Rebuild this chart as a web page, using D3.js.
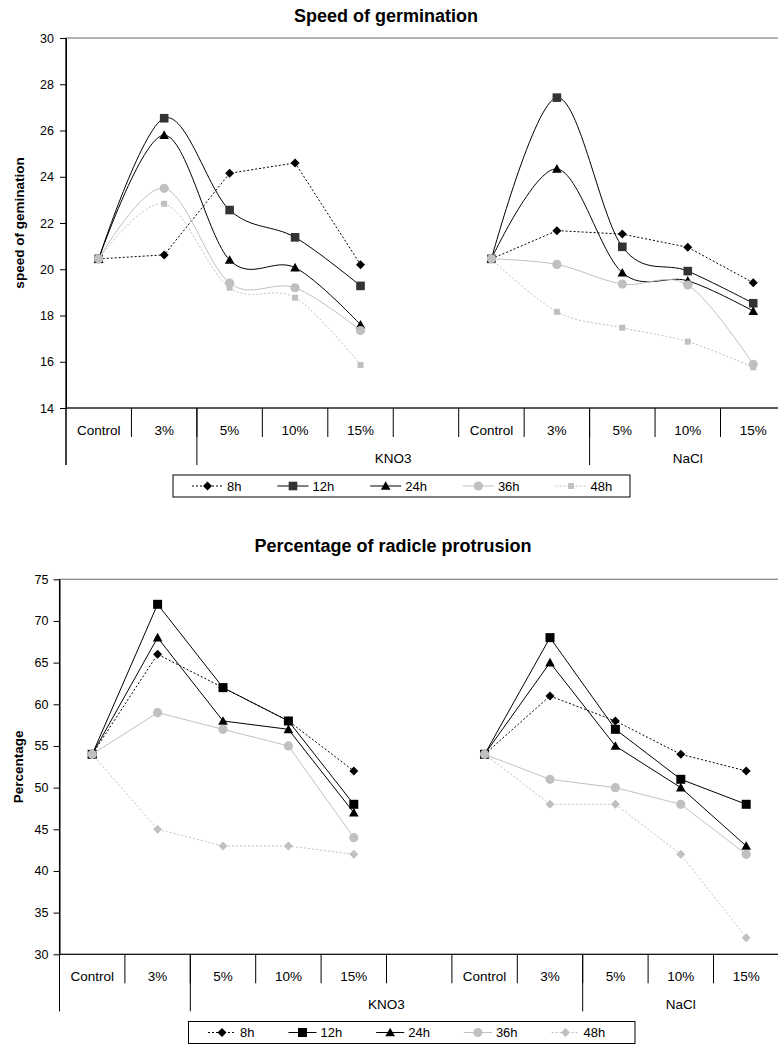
<!DOCTYPE html>
<html>
<head>
<meta charset="utf-8">
<script src="https://cdn.jsdelivr.net/npm/d3@7"></script>
<style>
  body { margin: 0; background: #fff; }
  svg text { font-family: "Liberation Sans", Arial, sans-serif; fill: #000; }
</style>
</head>
<body>
<div id="chart"></div>
<script>
// x categories, slot 5 is the empty gap between the two salts
var categories = ["Control", "3%", "5%", "10%", "15%", "", "Control", "3%", "5%", "10%", "15%"];
var groupLabels = ["", "KNO3", "NaCl"];
var groupSpans = [2, 6, 3];
var seriesNames = ["8h", "12h", "24h", "36h", "48h"];

// speed of germination
var speed8h  = [20.45, 20.62, 24.15, 24.6, 20.2, null, 20.45, 21.67, 21.52, 20.95, 19.42];
var speed12h = [20.45, 26.53, 22.56, 21.38, 19.28, null, 20.45, 27.42, 20.97, 19.92, 18.53];
var speed24h = [20.45, 25.8, 20.4, 20.07, 17.6, null, 20.45, 24.34, 19.85, 19.5, 18.19];
var speed36h = [20.45, 23.5, 19.4, 19.2, 17.35, null, 20.45, 20.21, 19.36, 19.32, 15.89];
var speed48h = [20.45, 22.83, 19.2, 18.77, 15.86, null, 20.45, 18.16, 17.47, 16.87, 15.76];
var speedTicks = [14, 16, 18, 20, 22, 24, 26, 28, 30];

// percentage of radicle protrusion
var pct8h  = [54, 66, 62, 58, 52, null, 54, 61, 58, 54, 52];
var pct12h = [54, 72, 62, 58, 48, null, 54, 68, 57, 51, 48];
var pct24h = [54, 68, 58, 57, 47, null, 54, 65, 55, 50, 43];
var pct36h = [54, 59, 57, 55, 44, null, 54, 51, 50, 48, 42];
var pct48h = [54, 45, 43, 43, 42, null, 54, 48, 48, 42, 32];
var pctTicks = [30, 35, 40, 45, 50, 55, 60, 65, 70, 75];

var FONT = '"Liberation Sans", Arial, sans-serif';

var svg = d3.select("#chart").append("svg")
  .attr("width", 778).attr("height", 1045);

// marker shapes, r = half size
function markerPath(shape, r) {
  if (shape == "square") return "M" + -r + "," + -r + "h" + 2 * r + "v" + 2 * r + "h" + -2 * r + "Z";
  if (shape == "diamond") return "M0," + -r + "L" + r + ",0L0," + r + "L" + -r + ",0Z";
  if (shape == "triangle") return "M0," + -r + "L" + r + "," + r * 0.8 + "L" + -r + "," + r * 0.8 + "Z";
  return d3.symbol(d3.symbolCircle, Math.PI * r * r)();
}

var topStyles = [
  { stroke: "#000", dash: "2,2", shape: "diamond", r: 4.5, fill: "#000", smooth: false },
  { stroke: "#000", dash: null, shape: "square", r: 4.3, fill: "#333", smooth: true },
  { stroke: "#000", dash: null, shape: "triangle", r: 4.8, fill: "#000", smooth: true },
  { stroke: "#c0c0c0", dash: null, shape: "circle", r: 4.6, fill: "#c0c0c0", smooth: true },
  { stroke: "#c0c0c0", dash: "2,2", shape: "square", r: 3, fill: "#c0c0c0", smooth: true }
];
var bottomStyles = [
  { stroke: "#000", dash: "2,2", shape: "diamond", r: 4.5, fill: "#000", smooth: false },
  { stroke: "#000", dash: null, shape: "square", r: 4.5, fill: "#000", smooth: false },
  { stroke: "#000", dash: null, shape: "triangle", r: 4.8, fill: "#000", smooth: false },
  { stroke: "#c0c0c0", dash: null, shape: "circle", r: 4.6, fill: "#c0c0c0", smooth: false },
  { stroke: "#c0c0c0", dash: "2,2", shape: "diamond", r: 4.5, fill: "#c0c0c0", smooth: false }
];

function createChart(cfg) {
  var g = svg.append("g");
  var n = categories.length;
  var xScale = d3.scaleBand().domain(d3.range(n)).range([cfg.left, cfg.left + n * cfg.slot]).padding(0);
  var cx = function (i) { return xScale(i) + xScale.bandwidth() / 2; };
  var y = d3.scaleLinear().domain(d3.extent(cfg.ticks)).range([cfg.bottom, cfg.top]);
  var right = cfg.left + n * cfg.slot;

  // title
  g.append("text").attr("x", cfg.titleX).attr("y", cfg.titleY)
    .attr("text-anchor", "middle").style("font-size", "18px").style("font-weight", "bold")
    .text(cfg.title);

  // plot area border
  g.append("rect").attr("x", cfg.left).attr("y", cfg.top)
    .attr("width", right - cfg.left).attr("height", cfg.bottom - cfg.top)
    .attr("fill", "none").attr("stroke", "#808080").attr("stroke-width", 1.2);

  // y axis
  var ax = g.append("g").attr("transform", "translate(" + cfg.left + ",0)")
    .call(d3.axisLeft(y).tickValues(cfg.ticks).tickSize(6).tickSizeOuter(0).tickPadding(cfg.tickPad));
  ax.attr("font-family", FONT).attr("font-size", "12.5px");
  ax.selectAll("line, path").attr("stroke", "#000");

  g.append("text")
    .attr("transform", "translate(" + cfg.yLabelX + "," + (cfg.top + cfg.bottom) / 2 + ") rotate(-90)")
    .attr("text-anchor", "middle").attr("dy", "0.35em")
    .style("font-size", "13.5px").style("font-weight", "bold")
    .text(cfg.yLabel);

  // x axis with two rows of categories
  g.append("line").attr("x1", cfg.left).attr("x2", right)
    .attr("y1", cfg.bottom).attr("y2", cfg.bottom).attr("stroke", "#000");
  g.append("line").attr("x1", cfg.left).attr("x2", cfg.left)
    .attr("y1", cfg.top).attr("y2", cfg.bottom + 57).attr("stroke", "#000");

  d3.range(1, n).forEach(function (i) {
    g.append("line").attr("x1", xScale(i)).attr("x2", xScale(i))
      .attr("y1", cfg.bottom).attr("y2", cfg.bottom + 29).attr("stroke", "#000");
  });
  g.selectAll(".cat").data(categories).enter().append("text")
    .attr("x", function (d, i) { return cx(i); })
    .attr("y", cfg.bottom + 27)
    .attr("text-anchor", "middle").style("font-size", "13.5px")
    .text(function (d) { return d; });

  var start = 0;
  groupSpans.forEach(function (span, k) {
    var x0 = xScale(start), x1 = start + span < n ? xScale(start + span) : right;
    g.append("line").attr("x1", x0).attr("x2", x0)
      .attr("y1", cfg.bottom).attr("y2", cfg.bottom + 57).attr("stroke", "#000");
    g.append("text").attr("x", (x0 + x1) / 2).attr("y", cfg.bottom + 55)
      .attr("text-anchor", "middle").style("font-size", "13.5px")
      .text(groupLabels[k]);
    start += span;
  });

  // series lines then markers
  cfg.series.forEach(function (values, s) {
    var st = cfg.styles[s];
    var line = d3.line()
      .defined(function (d) { return d != null; })
      .x(function (d, i) { return cx(i); })
      .y(function (d) { return y(d); })
      .curve(st.smooth ? d3.curveCardinal.tension(0) : d3.curveLinear);
    g.append("path").datum(values).attr("d", line)
      .attr("fill", "none").attr("stroke", st.stroke).attr("stroke-width", 1)
      .attr("stroke-dasharray", st.dash);
    values.forEach(function (v, i) {
      if (v == null) return;
      g.append("path").attr("d", markerPath(st.shape, st.r))
        .attr("transform", "translate(" + cx(i) + "," + y(v) + ")")
        .attr("fill", st.fill);
    });
  });

  // legend
  var lg = cfg.legend;
  g.append("rect").attr("x", lg.x).attr("y", lg.y).attr("width", lg.w).attr("height", lg.h)
    .attr("fill", "#fff").attr("stroke", "#000");
  var cy = lg.y + lg.h / 2, cursor = lg.start;
  seriesNames.forEach(function (name, s) {
    var st = cfg.styles[s];
    g.append("line").attr("x1", cursor).attr("x2", cursor + lg.lineLen)
      .attr("y1", cy).attr("y2", cy).attr("stroke", st.stroke).attr("stroke-dasharray", st.dash);
    g.append("path").attr("d", markerPath(st.shape, st.r))
      .attr("transform", "translate(" + (cursor + lg.lineLen / 2) + "," + cy + ")")
      .attr("fill", st.fill);
    var t = g.append("text").attr("x", cursor + lg.lineLen + 4).attr("y", cy).attr("dy", "0.36em")
      .style("font-size", "13px").text(name);
    cursor += lg.lineLen + 4 + t.node().getComputedTextLength() + lg.gap;
  });
}

createChart({
  title: "Speed of germination", titleX: 386, titleY: 21.5,
  yLabel: "speed of gemination", yLabelX: 19,
  left: 66, slot: 65.45, top: 38, bottom: 408, tickPad: 6,
  ticks: speedTicks,
  series: [speed8h, speed12h, speed24h, speed36h, speed48h],
  styles: topStyles,
  legend: { x: 173, y: 475, w: 457, h: 22, start: 192, lineLen: 31, gap: 36 }
});

createChart({
  title: "Percentage of radicle protrusion", titleX: 393, titleY: 552,
  yLabel: "Percentage", yLabelX: 18,
  left: 59.5, slot: 65.4, top: 579.3, bottom: 954.3, tickPad: 5,
  ticks: pctTicks,
  series: [pct8h, pct12h, pct24h, pct36h, pct48h],
  styles: bottomStyles,
  legend: { x: 188.5, y: 1021.5, w: 446.5, h: 22, start: 208, lineLen: 28, gap: 34 }
});
</script>
</body>
</html>
